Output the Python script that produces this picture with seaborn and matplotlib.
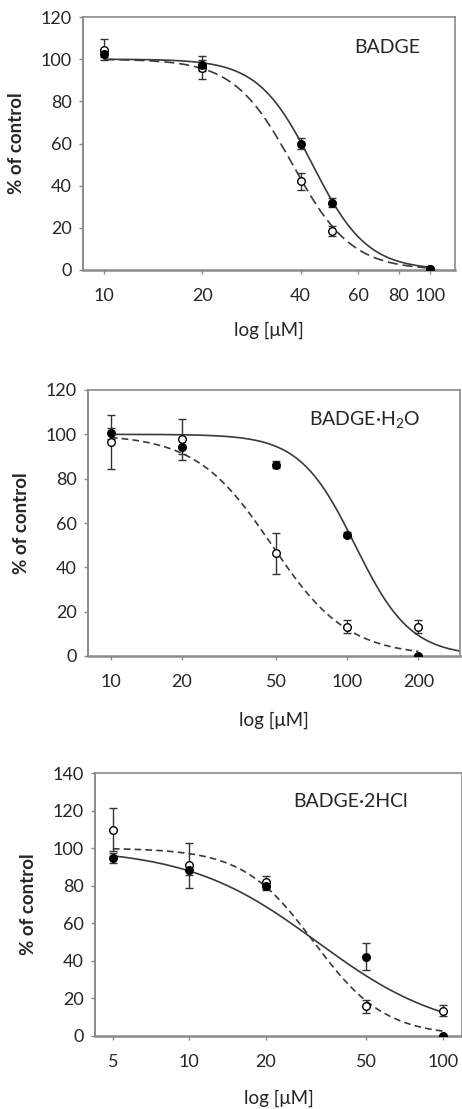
import numpy as np
import pandas as pd
import matplotlib
matplotlib.use("Agg")
import matplotlib.pyplot as plt
import matplotlib.ticker as mticker
import seaborn as sns

# ---------------- data ----------------
titles = ["BADGE", r"BADGE·H$_\mathregular{2}$O", "BADGE·2HCl"]

# panel 1 : BADGE
conc1 = [10, 20, 40, 50, 100]
filled1 = [102.5, 97.0, 60.0, 32.0, 0.5]
filled1_err = [1.5, 2.5, 2.5, 2.0, 0.5]
open1 = [104.5, 96.0, 42.0, 18.5, 0.5]
open1_err = [5.0, 5.5, 4.0, 2.5, 0.5]
fit1_solid = (43.5, 5.2)   # IC50, hill slope
fit1_dash = (37.8, 4.8)

# panel 2 : BADGE·H2O
conc2 = [10, 20, 50, 100, 200]
filled2 = [100.5, 94.3, 86.3, 54.8, 0.0]
filled2_err = [2.4, 3.0, 1.5, 1.0, 0.3]
open2 = [96.7, 97.7, 46.3, 13.2, 13.2]
open2_err = [12.2, 9.2, 9.4, 2.9, 2.9]
fit2_solid = (108.0, 3.7)
fit2_dash = (48.0, 2.7)

# panel 3 : BADGE·2HCl
conc3 = [5, 10, 20, 50, 100]
filled3 = [94.7, 88.5, 79.8, 42.3, 0.0]
filled3_err = [2.8, 3.0, 2.0, 7.3, 0.3]
open3 = [109.8, 91.0, 82.0, 15.8, 13.5]
open3_err = [11.5, 12.0, 3.0, 3.5, 3.0]
fit3_solid = (32.0, 1.7)
fit3_dash = (31.0, 3.1)

xticks = [[10, 20, 40, 60, 80, 100], [10, 20, 50, 100, 200], [5, 10, 20, 50, 100]]
yticks = [list(range(0, 121, 20)), list(range(0, 121, 20)), list(range(0, 141, 20))]

# ---------------- style ----------------
sns.set_style("ticks")
plt.rcParams["font.family"] = ["Lato", "DejaVu Sans"]
plt.rcParams["mathtext.fontset"] = "custom"
plt.rcParams["mathtext.rm"] = "Lato"

fig = plt.figure(figsize=(4.62, 11.09), dpi=100)
positions = [
    [83 / 462, 1 - 270 / 1109, 372 / 462, 253 / 1109],
    [88 / 462, 1 - 656 / 1109, 372 / 462, 266 / 1109],
    [95 / 462, 1 - 1036 / 1109, 367 / 462, 263 / 1109],
]
xlims = [(8.6, 119), (8.0, 300), (4.25, 119)]
ylims = [(0, 120), (0, 120), (0, 140)]
ylabel_x = [-0.156, -0.156, -0.158]
xlabel_y = [-0.205, -0.21, -0.205]
title_pos = [(0.817, 0.881), (0.745, 0.887), (0.695, 0.89)]
curve_ranges = [((10, 100), (10, 100)), ((10, 300), (10, 200)), ((5, 100), (5, 100))]
dash_styles = [(0, (6, 3)), (0, (4, 2.5)), (0, (4, 2.5))]

panels = [
    (conc1, filled1, filled1_err, open1, open1_err, fit1_solid, fit1_dash),
    (conc2, filled2, filled2_err, open2, open2_err, fit2_solid, fit2_dash),
    (conc3, filled3, filled3_err, open3, open3_err, fit3_solid, fit3_dash),
]

def hill(x, ic50, n):
    return 100.0 / (1.0 + (x / ic50) ** n)

spine_c = "#8a8a8a"
text_c = "#262626"

for i, (conc, fy, fe, oy, oe, fs, fd) in enumerate(panels):
    ax = fig.add_axes(positions[i])
    ax.set_xscale("log")

    # fitted curves
    (s0, s1), (d0, d1) = curve_ranges[i]
    xs = np.logspace(np.log10(s0), np.log10(s1), 300)
    xd = np.logspace(np.log10(d0), np.log10(d1), 300)
    sns.lineplot(x=xs, y=hill(xs, *fs), ax=ax, color="#3a3a3a", lw=1.2, zorder=2)
    sns.lineplot(x=xd, y=hill(xd, *fd), ax=ax, color="#3a3a3a", lw=1.2,
                 linestyle=dash_styles[i], zorder=2)

    # error bars
    ax.errorbar(conc, fy, yerr=fe, fmt="none", ecolor="#333333", elinewidth=1.0,
                capsize=3, capthick=1.0, zorder=3)
    ax.errorbar(conc, oy, yerr=oe, fmt="none", ecolor="#333333", elinewidth=1.0,
                capsize=3, capthick=1.0, zorder=3)

    # points
    sns.scatterplot(x=conc, y=oy, ax=ax, marker="o", s=30, color="white",
                    edgecolor="black", linewidth=1.0, zorder=4)
    sns.scatterplot(x=conc, y=fy, ax=ax, marker="o", s=30, color="black",
                    edgecolor="black", linewidth=1.0, zorder=5)

    ax.set_xlim(*xlims[i])
    ax.set_ylim(*ylims[i])
    ax.xaxis.set_major_locator(mticker.FixedLocator(xticks[i]))
    ax.xaxis.set_major_formatter(mticker.FixedFormatter([str(t) for t in xticks[i]]))
    ax.xaxis.set_minor_locator(mticker.NullLocator())
    ax.set_yticks(yticks[i])

    for sp in ax.spines.values():
        sp.set_visible(True)
        sp.set_color(spine_c)
        sp.set_linewidth(1.2)
    ax.spines["bottom"].set_linewidth(1.8)
    ax.spines["left"].set_linewidth(1.4)

    ax.tick_params(axis="both", direction="out", length=3, width=1,
                   color=spine_c, labelsize=13, labelcolor=text_c)
    ax.tick_params(axis="x", pad=10)
    ax.tick_params(axis="y", pad=5)

    ax.set_xlabel("log [μM]", fontsize=13.5, color=text_c)
    ax.set_ylabel("% of control", fontsize=13.5, fontweight="bold", color=text_c)
    ax.yaxis.set_label_coords(ylabel_x[i], 0.5)
    ax.xaxis.set_label_coords(0.5, xlabel_y[i])

    ax.text(title_pos[i][0], title_pos[i][1], titles[i], transform=ax.transAxes,
            ha="center", va="center", fontsize=14, color=text_c)

fig.savefig("out.png", dpi=100)
